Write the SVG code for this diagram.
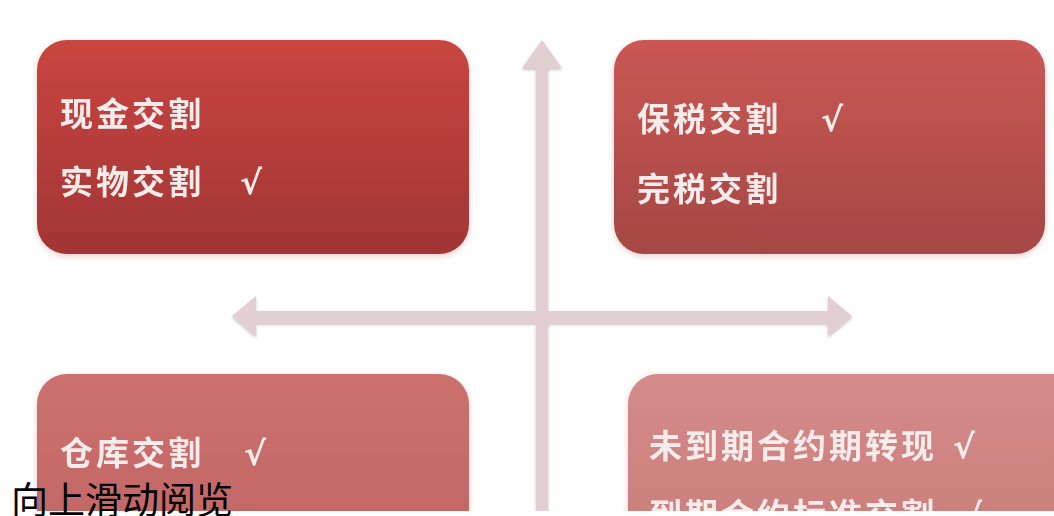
<svg xmlns="http://www.w3.org/2000/svg" width="1054" height="516" viewBox="0 0 1054 516">
<style>
.lbl{font-family:"Noto Sans CJK SC","Noto Sans",sans-serif;font-size:33px;font-weight:bold;fill:#f7ecec;letter-spacing:3px}
.ck{font-family:"DejaVu Sans",sans-serif;font-weight:bold;letter-spacing:0}
.cap{font-family:"Noto Sans CJK SC","Noto Sans",sans-serif;font-size:37px;fill:#000}
.arr{fill:#e2cfd1}
</style>
<defs>
<linearGradient id="g1" x1="0" y1="0" x2="0" y2="1"><stop offset="0" stop-color="#ca4541"/><stop offset="1" stop-color="#a13534"/></linearGradient>
<linearGradient id="g2" x1="0" y1="0" x2="0" y2="1"><stop offset="0" stop-color="#ca5854"/><stop offset="1" stop-color="#a54744"/></linearGradient>
<linearGradient id="g3" x1="0" y1="0" x2="0" y2="1"><stop offset="0" stop-color="#cc716e"/><stop offset="1" stop-color="#be6361"/></linearGradient>
<linearGradient id="g4" x1="0" y1="0" x2="0" y2="1"><stop offset="0" stop-color="#d48b89"/><stop offset="1" stop-color="#c97b79"/></linearGradient>
<filter id="sh" x="-10%" y="-10%" width="120%" height="130%"><feDropShadow dx="0" dy="2" stdDeviation="3" flood-color="#b07070" flood-opacity="0.35"/></filter>
<filter id="ash" x="-10%" y="-10%" width="120%" height="130%"><feDropShadow dx="0" dy="2" stdDeviation="1.5" flood-color="#9a8a8c" flood-opacity="0.5"/></filter>
</defs>
<rect width="1054" height="516" fill="#fff"/>
<g id="connectors" filter="url(#ash)">
<polygon class="arr" points="232,316 256,296 256,311 828,311 828,296 852,316 828,336 828,323 256,323 256,336"/>
<polygon class="arr" points="542,40 562,68 548,68 548,516 536,516 536,68 522,68"/>
</g>
<g id="box-tl" filter="url(#sh)">
<rect x="37" y="40" width="432" height="214" rx="30" fill="url(#g1)"/>
<text class="lbl" x="60" y="126">现金交割</text>
<text class="lbl" x="60" y="194">实物交割<tspan class="ck" x="240">√</tspan></text>
</g>
<g id="box-tr" filter="url(#sh)">
<rect x="614" y="40" width="431" height="214" rx="30" fill="url(#g2)"/>
<text class="lbl" x="637" y="131">保税交割<tspan class="ck" x="821">√</tspan></text>
<text class="lbl" x="637" y="201">完税交割</text>
</g>
<g id="box-bl" filter="url(#sh)">
<rect x="37" y="374" width="432" height="214" rx="30" fill="url(#g3)"/>
<text class="lbl" x="60" y="465">仓库交割<tspan class="ck" x="244">√</tspan></text>
</g>
<g id="box-br" filter="url(#sh)">
<rect x="628" y="374" width="460" height="214" rx="30" fill="url(#g4)"/>
<text class="lbl" x="649" y="458">未到期合约期转现<tspan class="ck" x="953">√</tspan></text>
<text class="lbl" x="649" y="527">到期合约标准交割<tspan class="ck" x="960">√</tspan></text>
</g>
<rect x="0" y="511" width="1054" height="5" fill="#fff"/>
<text class="cap" x="11" y="514">向上滑动阅览</text>
</svg>
